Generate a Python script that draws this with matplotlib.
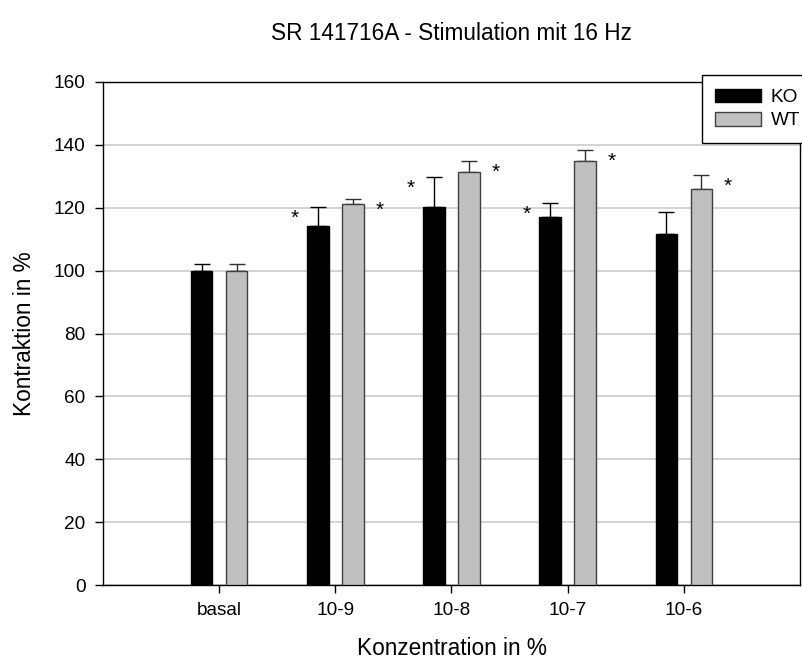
import matplotlib
matplotlib.use("Agg")
import matplotlib.pyplot as plt
import numpy as np

plt.rcParams['font.family'] = ['Liberation Sans', 'DejaVu Sans']

# Data
categories = ["basal", "10-9", "10-8", "10-7", "10-6"]
ko_mean = [100.0, 114.3, 120.1, 117.0, 111.7]
ko_sem = [2.1, 6.0, 9.7, 4.4, 6.8]
wt_mean = [100.0, 121.1, 131.4, 134.8, 126.0]
wt_sem = [2.2, 1.7, 3.5, 3.5, 4.5]
ko_signif = [False, True, True, True, False]
wt_signif = [False, True, True, True, True]

W, H = 803, 666
fig = plt.figure(figsize=(W / 100, H / 100), dpi=100)
ax = fig.add_axes([103 / W, 1 - 585 / H, 697 / W, 503 / H])

x = np.arange(len(categories))
bw = 0.185
off = 0.15

ko_col, wt_col = "#000000", "#c0c0c0"
ko_edge, wt_edge = "#000000", "#404040"

ax.bar(x - off, ko_mean, bw, color=ko_col, edgecolor=ko_edge, linewidth=1.0,
       zorder=3, label="KO")
ax.bar(x + off, wt_mean, bw, color=wt_col, edgecolor=wt_edge, linewidth=1.0,
       zorder=3, label="WT")

# upper error bars only
ax.errorbar(x - off, ko_mean, yerr=[np.zeros(len(x)), ko_sem], fmt="none",
            ecolor="#000000", elinewidth=1.0, capsize=5.5, capthick=1.0, zorder=2)
ax.errorbar(x + off, wt_mean, yerr=[np.zeros(len(x)), wt_sem], fmt="none",
            ecolor="#303030", elinewidth=1.0, capsize=5.5, capthick=1.0, zorder=2)

# significance asterisks
for i in range(len(x)):
    if ko_signif[i]:
        ax.text(x[i] - 0.35, ko_mean[i] + ko_sem[i] - 5.4, "*", ha="center",
                va="baseline", fontsize=15, color="black")
    if wt_signif[i]:
        ax.text(x[i] + 0.38, wt_mean[i] + wt_sem[i] - 5.4, "*", ha="center",
                va="baseline", fontsize=15, color="black")

ax.set_xlim(-1, 5)
ax.set_ylim(0, 160)
ax.set_yticks(np.arange(0, 161, 20))
ax.set_xticks(x)
ax.set_xticklabels(categories)
ax.yaxis.grid(True, color="#c8c8c8", linewidth=1.1, zorder=0)
ax.set_axisbelow(True)

for s in ax.spines.values():
    s.set_linewidth(1.0)
    s.set_color("black")

ax.tick_params(axis="both", direction="out", length=5.5, width=1.0,
               labelsize=13.7, pad=7)

ax.set_xlabel("Konzentration in %", fontsize=16.3, labelpad=13)
ax.set_ylabel("Kontraktion in %", fontsize=16.3, labelpad=13)

fig.text(451.5 / W, 1 - 40 / H, "SR 141716A - Stimulation mit 16 Hz",
         ha="center", va="baseline", fontsize=16.3)

leg = ax.legend(loc="upper left", bbox_to_anchor=((701.7 - 103) / 697, (585 - 75.0) / 503),
                fontsize=13.7, frameon=True, fancybox=False, framealpha=1,
                edgecolor="black", handlelength=2.4, handleheight=0.73,
                handletextpad=0.5, labelspacing=0.3, borderpad=0.72,
                borderaxespad=0.0)
leg.get_frame().set_linewidth(1.0)
leg.set_zorder(5)

fig.savefig("out.png", dpi=100)
